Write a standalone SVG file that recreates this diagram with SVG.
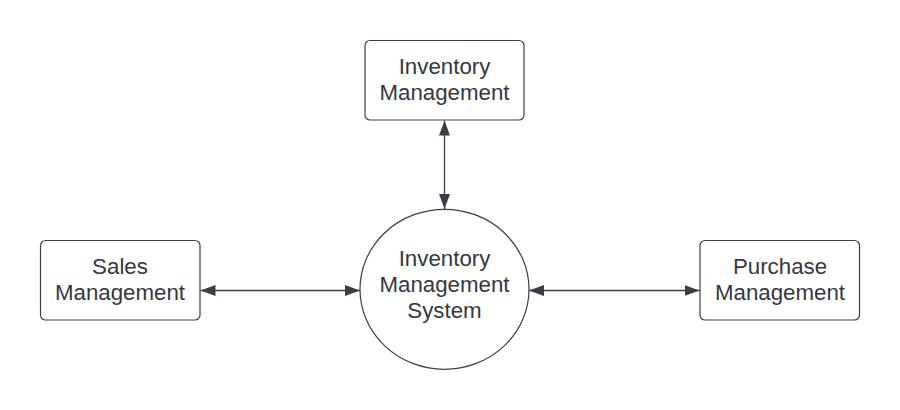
<svg xmlns="http://www.w3.org/2000/svg" width="900" height="410" viewBox="0 0 900 410">
  <style>
    .box { fill: #ffffff; stroke: #3a3f47; stroke-width: 1.2; }
    .lbl { font-family: "Liberation Sans", Arial, sans-serif; font-size: 22.3px; fill: #333840; text-anchor: middle; }
    .conn { stroke: #3a3f47; stroke-width: 1.3; fill: none; marker-start: url(#arr); marker-end: url(#arr); }
  </style>
  <defs>
    <marker id="arr" markerUnits="userSpaceOnUse" markerWidth="16" markerHeight="12" refX="15" refY="5.5" orient="auto-start-reverse" viewBox="0 0 16 11">
      <path d="M0,0 L15,5.5 L0,11 z" fill="#3a3f47"/>
    </marker>
  </defs>
  <rect width="900" height="410" fill="#ffffff"/>
  <g id="connectors">
    <line class="conn" x1="444.5" y1="120.5" x2="444.5" y2="209"/>
    <line class="conn" x1="200.5" y1="290.5" x2="360" y2="290.5"/>
    <line class="conn" x1="529" y1="290.5" x2="699.5" y2="290.5"/>
  </g>
  <g id="inventory-management">
    <rect class="box" x="365" y="40.5" width="159" height="79.5" rx="5"/>
    <text class="lbl" x="444.5" y="74">Inventory</text>
    <text class="lbl" x="444.5" y="100">Management</text>
  </g>
  <g id="ims">
    <ellipse class="box" cx="444.5" cy="289.3" rx="84.5" ry="80"/>
    <text class="lbl" x="444.5" y="266">Inventory</text>
    <text class="lbl" x="444.5" y="292">Management</text>
    <text class="lbl" x="444.5" y="318">System</text>
  </g>
  <g id="sales-management">
    <rect class="box" x="40.5" y="240.5" width="159.5" height="79.5" rx="5"/>
    <text class="lbl" x="120" y="274">Sales</text>
    <text class="lbl" x="120" y="300">Management</text>
  </g>
  <g id="purchase-management">
    <rect class="box" x="700" y="240.5" width="159.5" height="79.5" rx="5"/>
    <text class="lbl" x="780" y="274">Purchase</text>
    <text class="lbl" x="780" y="300">Management</text>
  </g>
</svg>
